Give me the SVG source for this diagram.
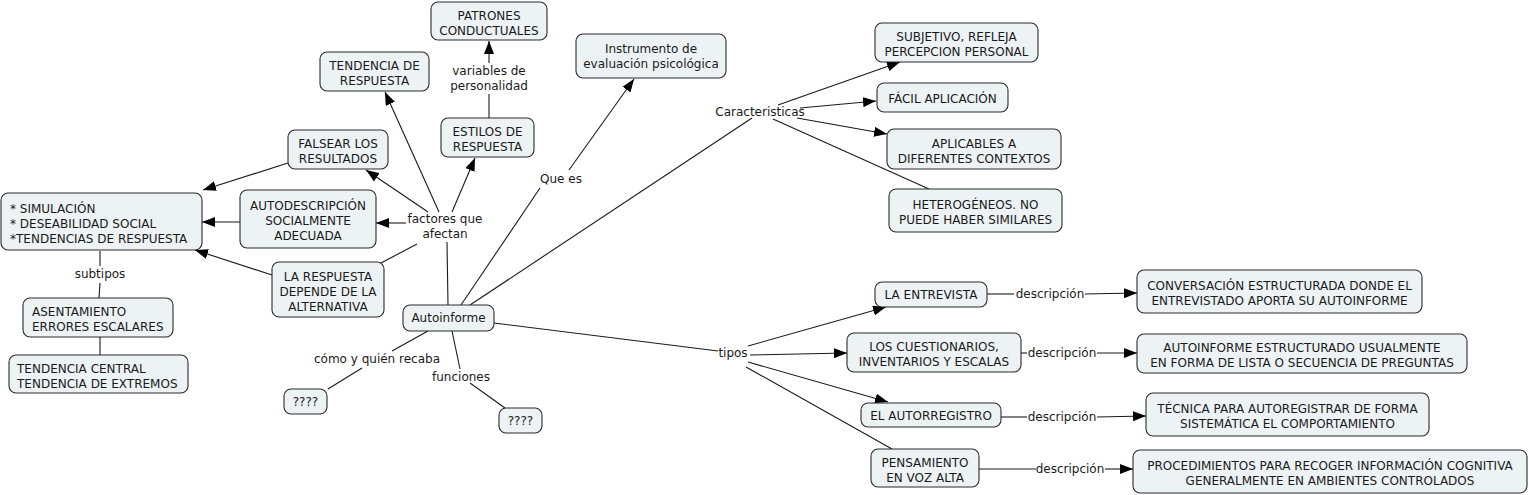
<svg xmlns="http://www.w3.org/2000/svg" width="1529" height="495" viewBox="0 0 1529 495">
<style>
.n rect{fill:#edf2f4;stroke:#2b2b2b;stroke-width:1.1}
text{font-family:"DejaVu Sans",Verdana,sans-serif;font-size:12px;fill:#1a1a1a}
.c{text-anchor:middle}
#links line{stroke:#1a1a1a;stroke-width:1.1}
.a{marker-end:url(#ah)}
</style>
<defs>
<marker id="ah" markerUnits="userSpaceOnUse" markerWidth="13" markerHeight="10" refX="13" refY="5" orient="auto">
<path d="M0,0 L13,5 L0,10 z" fill="#000"/>
</marker>
</defs>
<rect width="1529" height="495" fill="#fff"/>
<g id="links">
<!-- factores -->
<line x1="447" y1="242" x2="448" y2="305"/>
<line class="a" x1="439" y1="212" x2="385" y2="92"/>
<line class="a" x1="452" y1="212" x2="475" y2="158"/>
<line class="a" x1="428" y1="212" x2="366" y2="170"/>
<line class="a" x1="406" y1="223" x2="376" y2="223"/>
<line x1="417" y1="244" x2="381" y2="263"/>
<line class="a" x1="288" y1="163" x2="203" y2="190"/>
<line class="a" x1="240" y1="222" x2="202" y2="222"/>
<line class="a" x1="272" y1="275" x2="195" y2="250"/>
<line x1="100" y1="251" x2="100" y2="266"/>
<line x1="100" y1="283" x2="99" y2="298"/>
<line x1="100" y1="337" x2="100" y2="355"/>
<!-- estilos -->
<line x1="489" y1="118" x2="489" y2="94"/>
<line class="a" x1="489" y1="63" x2="489" y2="41"/>
<!-- que es -->
<line x1="461" y1="305" x2="540" y2="188"/>
<line class="a" x1="569" y1="170" x2="634" y2="79"/>
<!-- caracteristicas -->
<line x1="470" y1="305" x2="752" y2="118"/>
<line class="a" x1="778" y1="105" x2="900" y2="62"/>
<line class="a" x1="800" y1="108" x2="876" y2="101"/>
<line class="a" x1="797" y1="118" x2="887" y2="134"/>
<line x1="773" y1="119" x2="929" y2="189"/>
<!-- como / funciones -->
<line x1="428" y1="331" x2="392" y2="351"/>
<line x1="362" y1="368" x2="328" y2="389"/>
<line x1="452" y1="331" x2="460" y2="369"/>
<line x1="470" y1="383" x2="505" y2="408"/>
<!-- tipos -->
<line x1="494" y1="323" x2="718" y2="351"/>
<line class="a" x1="748" y1="346" x2="886" y2="307"/>
<line class="a" x1="750" y1="355" x2="847" y2="353"/>
<line class="a" x1="748" y1="362" x2="888" y2="402"/>
<line x1="746" y1="367" x2="892" y2="449"/>
<!-- descripcion -->
<line x1="987" y1="294" x2="1014" y2="294"/>
<line class="a" x1="1085" y1="294" x2="1137" y2="293"/>
<line x1="1021" y1="353" x2="1027" y2="353"/>
<line class="a" x1="1097" y1="353" x2="1137" y2="353"/>
<line x1="1001" y1="417" x2="1027" y2="417"/>
<line class="a" x1="1097" y1="417" x2="1146" y2="416"/>
<line x1="979" y1="469" x2="1036" y2="469"/>
<line class="a" x1="1105" y1="469" x2="1133" y2="469"/>
</g>
<g id="labels">
<text class="c" x="489" y="75">variables de</text>
<text class="c" x="489" y="90">personalidad</text>
<text class="c" x="561" y="183">Que es</text>
<text class="c" x="760" y="116">Caracteristicas</text>
<text class="c" x="445" y="223">factores que</text>
<text class="c" x="445" y="238">afectan</text>
<text class="c" x="100" y="278">subtipos</text>
<text class="c" x="377" y="363">cómo y quién recaba</text>
<text class="c" x="461" y="381">funciones</text>
<text class="c" x="733" y="357">tipos</text>
<text class="c" x="1050" y="298">descripción</text>
<text class="c" x="1062" y="357">descripción</text>
<text class="c" x="1062" y="421">descripción</text>
<text class="c" x="1070" y="473">descripción</text>
</g>
<g id="n1" class="n"><rect x="431" y="2" width="116" height="38" rx="7"/><text class="c" x="489" y="19.5">PATRONES</text><text class="c" x="489" y="34.5">CONDUCTUALES</text></g>
<g id="n2" class="n"><rect x="320" y="52" width="109" height="39" rx="7"/><text class="c" x="374.5" y="70">TENDENCIA DE</text><text class="c" x="374.5" y="85">RESPUESTA</text></g>
<g id="n3" class="n"><rect x="576" y="34" width="150" height="44" rx="7"/><text class="c" x="651" y="52.5">Instrumento de</text><text class="c" x="651" y="67.5">evaluación psicológica</text></g>
<g id="n4" class="n"><rect x="875" y="23" width="163" height="39" rx="7"/><text class="c" x="956.5" y="41">SUBJETIVO, REFLEJA</text><text class="c" x="956.5" y="56">PERCEPCION PERSONAL</text></g>
<g id="n5" class="n"><rect x="877" y="83" width="131" height="29" rx="7"/><text class="c" x="942.5" y="103">FÁCIL APLICACIÓN</text></g>
<g id="n6" class="n"><rect x="887" y="129" width="174" height="40" rx="7"/><text class="c" x="974" y="147.5">APLICABLES A</text><text class="c" x="974" y="162.5">DIFERENTES CONTEXTOS</text></g>
<g id="n7" class="n"><rect x="889" y="189" width="173" height="43" rx="7"/><text class="c" x="975.5" y="209">HETEROGÉNEOS. NO</text><text class="c" x="975.5" y="224">PUEDE HABER SIMILARES</text></g>
<g id="n8" class="n"><rect x="441" y="118" width="93" height="39" rx="7"/><text class="c" x="487.5" y="136">ESTILOS DE</text><text class="c" x="487.5" y="151">RESPUESTA</text></g>
<g id="n9" class="n"><rect x="288" y="130" width="100" height="39" rx="7"/><text class="c" x="338" y="148">FALSEAR LOS</text><text class="c" x="338" y="163">RESULTADOS</text></g>
<g id="n10" class="n"><rect x="1" y="193" width="201" height="57" rx="7"/><text x="10" y="213">* SIMULACIÓN</text><text x="10" y="228">* DESEABILIDAD SOCIAL</text><text x="10" y="243">*TENDENCIAS DE RESPUESTA</text></g>
<g id="n11" class="n"><rect x="240" y="190" width="136" height="58" rx="7"/><text class="c" x="308" y="210">AUTODESCRIPCIÓN</text><text class="c" x="308" y="225">SOCIALMENTE</text><text class="c" x="308" y="240">ADECUADA</text></g>
<g id="n12" class="n"><rect x="272" y="262" width="112" height="55" rx="7"/><text class="c" x="328" y="280.5">LA RESPUESTA</text><text class="c" x="328" y="295.5">DEPENDE DE LA</text><text class="c" x="328" y="310.5">ALTERNATIVA</text></g>
<g id="n13" class="n"><rect x="23" y="298" width="150" height="39" rx="7"/><text x="32" y="316">ASENTAMIENTO</text><text x="32" y="331">ERRORES ESCALARES</text></g>
<g id="n14" class="n"><rect x="9" y="355" width="179" height="38" rx="7"/><text x="17" y="372.5">TENDENCIA CENTRAL</text><text x="17" y="387.5">TENDENCIA DE EXTREMOS</text></g>
<g id="n15" class="n"><rect x="403" y="305" width="91" height="26" rx="7"/><text class="c" x="448.5" y="322">Autoinforme</text></g>
<g id="n16" class="n"><rect x="284" y="389" width="43" height="25" rx="7"/><text class="c" x="305.5" y="406">????</text></g>
<g id="n17" class="n"><rect x="499" y="408" width="43" height="25" rx="7"/><text class="c" x="520.5" y="425">????</text></g>
<g id="n18" class="n"><rect x="875" y="282" width="112" height="25" rx="7"/><text class="c" x="931" y="298.5">LA ENTREVISTA</text></g>
<g id="n19" class="n"><rect x="847" y="333" width="174" height="39" rx="7"/><text class="c" x="934" y="351">LOS CUESTIONARIOS,</text><text class="c" x="934" y="366">INVENTARIOS Y ESCALAS</text></g>
<g id="n20" class="n"><rect x="861" y="403" width="140" height="24" rx="7"/><text class="c" x="931" y="419.5">EL AUTORREGISTRO</text></g>
<g id="n21" class="n"><rect x="871" y="449" width="108" height="38" rx="7"/><text class="c" x="925" y="466.5">PENSAMIENTO</text><text class="c" x="925" y="481.5">EN VOZ ALTA</text></g>
<g id="n22" class="n"><rect x="1137" y="270" width="285" height="43" rx="7"/><text class="c" x="1279.5" y="290">CONVERSACIÓN ESTRUCTURADA DONDE EL</text><text class="c" x="1279.5" y="305">ENTREVISTADO APORTA SU AUTOINFORME</text></g>
<g id="n23" class="n"><rect x="1137" y="334" width="330" height="39" rx="7"/><text class="c" x="1302" y="352">AUTOINFORME ESTRUCTURADO USUALMENTE</text><text class="c" x="1302" y="367">EN FORMA DE LISTA O SECUENCIA DE PREGUNTAS</text></g>
<g id="n24" class="n"><rect x="1146" y="393" width="283" height="43" rx="7"/><text class="c" x="1287.5" y="413">TÉCNICA PARA AUTOREGISTRAR DE FORMA</text><text class="c" x="1287.5" y="428">SISTEMÁTICA EL COMPORTAMIENTO</text></g>
<g id="n25" class="n"><rect x="1133" y="450" width="394" height="43" rx="7"/><text class="c" x="1330" y="470">PROCEDIMIENTOS PARA RECOGER INFORMACIÓN COGNITIVA</text><text class="c" x="1330" y="485">GENERALMENTE EN AMBIENTES CONTROLADOS</text></g>
</svg>
